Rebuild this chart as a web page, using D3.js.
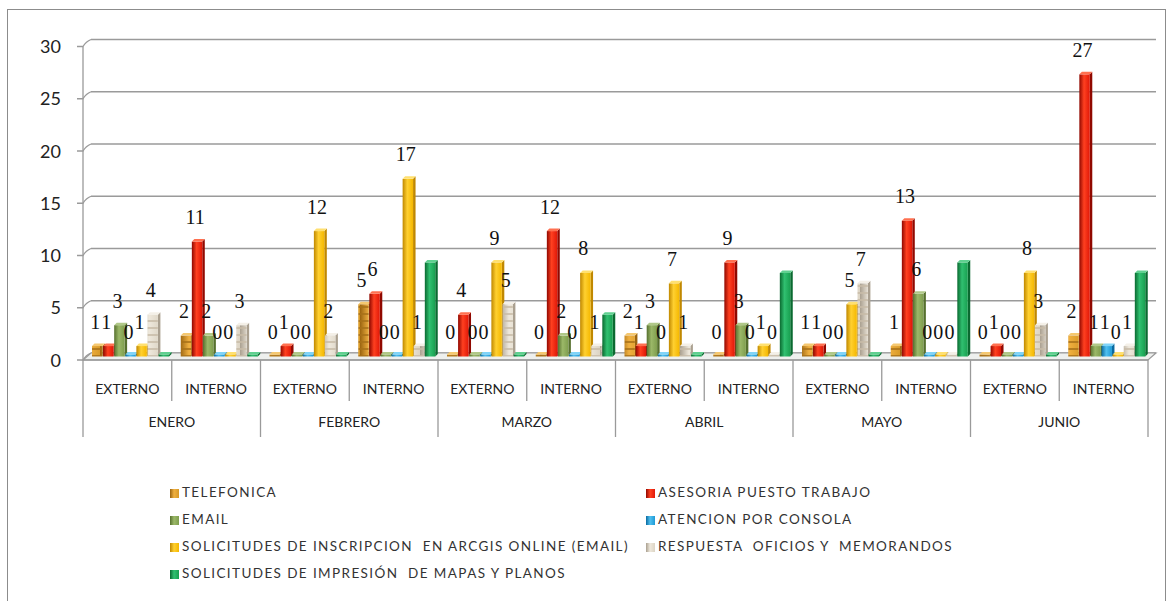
<!DOCTYPE html>
<html><head><meta charset="utf-8">
<script src="https://cdn.jsdelivr.net/npm/d3@7"></script>
<style>body{margin:0;background:#fff}svg{display:block}</style>
</head><body>
<svg id="c" width="1176" height="601"></svg>
<script>
const months = ["ENERO","FEBRERO","MARZO","ABRIL","MAYO","JUNIO"];
const types = ["EXTERNO","INTERNO"];
const seriesNames = ["TELEFONICA","ASESORIA PUESTO TRABAJO","EMAIL","ATENCION POR CONSOLA","SOLICITUDES DE INSCRIPCION  EN ARCGIS ONLINE (EMAIL)","RESPUESTA  OFICIOS Y  MEMORANDOS","SOLICITUDES DE IMPRESIÓN  DE MAPAS Y PLANOS"];
const telefonica = [1,2,0,5,0,0,2,0,1,1,0,2];
const asesoria   = [1,11,1,6,4,12,1,9,1,13,1,27];
const email      = [3,2,0,0,0,2,3,3,0,6,0,1];
const atencion   = [0,0,0,0,0,0,0,0,0,0,0,1];
const arcgis     = [1,0,12,17,9,8,7,1,5,0,8,0];
const respuesta  = [4,3,2,1,5,1,1,0,7,0,3,1];
const impresion  = [0,0,0,9,0,4,0,8,0,9,0,8];
const yTicks = [0,5,10,15,20,25,30];

const allSeries = [telefonica,asesoria,email,atencion,arcgis,respuesta,impresion];
const showLabel = [true,true,true,true,true,true,false];
const colors = [
  {l:"#f0b040",m:"#d89a28",d:"#9a6410",top:"#f5c870"},
  {l:"#ff4020",m:"#e01808",d:"#900800",top:"#ff7050"},
  {l:"#9bb868",m:"#7f9e4e",d:"#56702e",top:"#b0c888"},
  {l:"#50c0f0",m:"#1e9ad6",d:"#0a6aa0",top:"#80d4f8"},
  {l:"#ffd030",m:"#f5b800",d:"#c08800",top:"#ffe070"},
  {l:"#eee8dc",m:"#dcd4c4",d:"#aaa090",top:"#f4f0e8"},
  {l:"#30c070",m:"#18a050",d:"#0a6a30",top:"#60d090"}
];

const svg = d3.select("#c");
const defs = svg.append("defs");
colors.forEach((c,i)=>{
  const g = defs.append("linearGradient").attr("id","g"+i).attr("x1","0").attr("x2","1").attr("y1","0").attr("y2","0");
  g.append("stop").attr("offset","0").attr("stop-color",c.d);
  g.append("stop").attr("offset","0.45").attr("stop-color",c.l);
  g.append("stop").attr("offset","1").attr("stop-color",c.m);
});
[[0,"#a87018"],[5,"#c8bca8"]].forEach(([i,sc])=>{
  const p = defs.append("pattern").attr("id","p"+i).attr("patternUnits","userSpaceOnUse").attr("width",20).attr("height",7);
  p.append("rect").attr("width",20).attr("height",7).attr("fill","url(#g"+i+")");
  p.append("rect").attr("y",5).attr("width",20).attr("height",2).attr("fill",sc).attr("opacity",0.8);
});

svg.append("rect").attr("x",7.5).attr("y",9.5).attr("width",1158).attr("height",600).attr("fill","none").attr("stroke","#8c8c8c").attr("stroke-width",1);

const X0 = 83, X1 = 1148;
const groups = [];
months.forEach(m=>types.forEach(t=>groups.push(m+"|"+t)));
const xg = d3.scaleBand().domain(d3.range(groups.length)).range([X0,X1]).padding(0);
const gw = xg.bandwidth();
const xs = d3.scaleBand().domain(d3.range(allSeries.length)).range([9,86]).paddingInner(0.06);

const yFront = d3.scaleLinear().domain([0,30]).range([360,46.5]);
const DX = 8, DY = 7;
const yBack = v => yFront(v)-DY;
const yBar = v => yFront(v)-3.5;

const grid = svg.append("g");
yTicks.forEach(v=>{
  grid.append("line").attr("x1",X0+DX).attr("x2",X1+DX).attr("y1",yBack(v)).attr("y2",yBack(v)).attr("stroke","#9a9a9a").attr("stroke-width",1.5);
  grid.append("path").attr("d",`M${X0-6},${yFront(v)} L${X0},${yFront(v)} Q${X0+3},${yFront(v)-5} ${X0+DX},${yBack(v)}`).attr("fill","none").attr("stroke","#9a9a9a").attr("stroke-width",1.3);
  grid.append("text").attr("x",61).attr("y",yFront(v)+2).attr("text-anchor","end").attr("dominant-baseline","middle")
    .attr("font-family","Lato, 'Open Sans', sans-serif").attr("font-size",18).attr("fill","#222").text(v);
});
grid.append("line").attr("x1",X0).attr("x2",X0).attr("y1",yFront(30)).attr("y2",yFront(0)).attr("stroke","#9a9a9a").attr("stroke-width",1.3);
svg.append("path").attr("d",`M${X0},${yFront(0)} L${X1},${yFront(0)} L${X1+DX},${yBack(0)} L${X0+DX},${yBack(0)} Z`)
  .attr("fill","#eef0ee").attr("stroke","#9a9a9a").attr("stroke-width",1.2);

const bars = svg.append("g");
const labels = svg.append("g");
groups.forEach((g,gi)=>{
  allSeries.forEach((arr,si)=>{
    const v = arr[gi];
    const x = xg(gi)+xs(si), w = xs.bandwidth();
    const base = yBar(0);
    let top = yBar(v);
    if (base-top < 2) top = base-2;
    const c = colors[si];
    const fill = (si===0||si===5) ? "url(#p"+si+")" : "url(#g"+si+")";
    bars.append("path").attr("d",`M${x+w},${top} L${x+w+2.5},${top-2.5} L${x+w+2.5},${base-2.5} L${x+w},${base} Z`).attr("fill",c.d);
    bars.append("rect").attr("x",x).attr("y",top).attr("width",w).attr("height",base-top).attr("fill",fill);
    bars.append("path").attr("d",`M${x},${top} L${x+w},${top} L${x+w+2.5},${top-2.5} L${x+2.5},${top-2.5} Z`).attr("fill",c.top);
    if (showLabel[si]) {
      labels.append("text").attr("x",x+w/2-2).attr("y",yBar(v)-22).attr("text-anchor","middle").attr("dominant-baseline","middle")
        .attr("font-family","'Liberation Serif', serif").attr("font-size",20).attr("fill","#111").text(v);
    }
  });
});

const tbl = svg.append("g").attr("stroke","#9a9a9a").attr("stroke-width",1.3);
tbl.append("line").attr("x1",X0).attr("x2",X1).attr("y1",yFront(0)).attr("y2",yFront(0));
groups.forEach((g,gi)=>{
  const x = xg(gi);
  tbl.append("line").attr("x1",x).attr("x2",x).attr("y1",yFront(0)).attr("y2", gi%2===0 ? 437 : 401);
});
tbl.append("line").attr("x1",X1).attr("x2",X1).attr("y1",yFront(0)).attr("y2",437);
const txt = svg.append("g").attr("font-family","Lato, 'Open Sans', sans-serif").attr("fill","#222").attr("text-anchor","middle");
groups.forEach((g,gi)=>{
  txt.append("text").attr("x",xg(gi)+gw/2).attr("y",390).attr("dominant-baseline","middle").attr("font-size",14).text(types[gi%2]);
});
months.forEach((m,mi)=>{
  txt.append("text").attr("x",xg(mi*2)+gw).attr("y",423).attr("dominant-baseline","middle").attr("font-size",14).text(m);
});

const leg = svg.append("g").attr("font-family","Lato, 'Open Sans', sans-serif").attr("font-size",13.5).attr("fill","#333");
const legPos = [[0,0],[1,0],[0,1],[1,1],[0,2],[1,2],[0,3]];
seriesNames.forEach((n,i)=>{
  const [col,row] = legPos[i];
  const lx = col===0 ? 170 : 646, ly = 494 + row*27;
  leg.append("rect").attr("x",lx).attr("y",ly-5).attr("width",9).attr("height",9).attr("fill","url(#g"+i+")");
  leg.append("text").attr("x",lx+12).attr("y",ly).attr("dominant-baseline","middle").attr("letter-spacing",1.4).style("white-space","pre").text(n);
});
</script>
</body></html>
